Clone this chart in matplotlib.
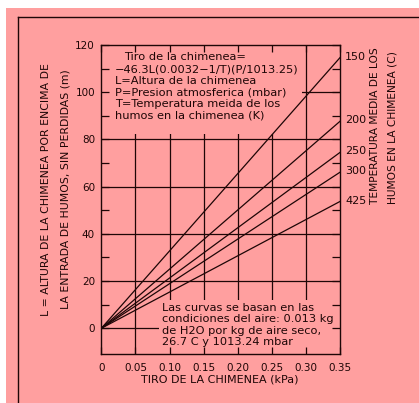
import matplotlib
matplotlib.use("Agg")
import matplotlib.pyplot as plt
import numpy as np
from matplotlib.lines import Line2D
from matplotlib.patches import Rectangle
from matplotlib.ticker import FixedLocator

# data: height L (m) reached at a draft of 0.35 kPa
temps = ["150", "200", "250", "300", "425"]
draft_end = 0.35
height_end = [114.8, 87.8, 74.6, 66.2, 53.8]

x_ticks = [0, 0.05, 0.10, 0.15, 0.20, 0.25, 0.30, 0.35]
x_ticklabels = ["0", "0.05", "0.10", "0.15", "0.20", "0.25", "0.30", "0.35"]
y_ticks = [0, 20, 40, 60, 80, 100, 120]
y_minor = [10, 30, 50, 70, 90, 110]
y_grid = [0, 20, 40, 60, 80, 100]

formula_lines = [
    "\u221246.3L(0.0032\u22121/T)(P/1013.25)",
    "L=Altura de la chimenea",
    "P=Presion atmosferica (mbar)",
    "T=Temperatura meida de los",
    "humos en la chimenea (K)",
]
note_lines = [
    "Las curvas se basan en las",
    "condiciones del aire: 0.013 kg",
    "de H2O por kg de aire seco,",
    "26.7 C y 1013.24 mbar",
]

PINK = "#ff9f9f"
INK = "#1e0606"
W, H = 419, 403


def fx(px):
    return px / W


def fy(py):
    return 1 - py / H


plt.rcParams["font.family"] = "DejaVu Sans"

fig = plt.figure(figsize=(W / 100, H / 100), dpi=100, facecolor="white")
fig.add_artist(Rectangle((fx(6), 0), 1, fy(8), transform=fig.transFigure,
                         facecolor=PINK, edgecolor="none", zorder=0))
fig.add_artist(Line2D([fx(17.5), fx(17.5)], [0, fy(16.5)], color=INK, lw=1.0))
fig.add_artist(Line2D([fx(17.5), 1], [fy(16.5), fy(16.5)], color=INK, lw=1.0))

ax = fig.add_axes([fx(101.3), fy(354.3), (340.3 - 101.3) / W, (354.3 - 45) / H])
ax.set_facecolor(PINK)
ax.set_xlim(0, 0.35)
ax.set_ylim(-11, 120)
ax.set_axisbelow(False)

# grid
for y in y_grid:
    ax.axhline(y, color=INK, lw=0.9, zorder=1)
for x in x_ticks[1:-1]:
    ax.axvline(x, color=INK, lw=0.9, zorder=1)

# pink masks behind the text blocks
ax.add_patch(Rectangle((0, 82.3), 0.294, 40, facecolor=PINK, edgecolor="none", zorder=2))
ax.add_patch(Rectangle((0.085, -12), 0.27, 24, facecolor=PINK, edgecolor="none", zorder=2))

# curves
for t, h in zip(temps, height_end):
    ax.plot([0, draft_end], [0, h], color=INK, lw=0.9, zorder=3)
    ax.annotate(t, xy=(draft_end, h), xytext=(3.5, 0.5), textcoords="offset points",
                ha="left", va="center", fontsize=8, color=INK, annotation_clip=False)

for s in ax.spines.values():
    s.set_color(INK)
    s.set_linewidth(1.0)

ax.set_xticks(x_ticks)
ax.set_xticklabels(x_ticklabels)
ax.set_yticks(y_ticks)
ax.yaxis.set_minor_locator(FixedLocator(y_minor))
ax.tick_params(axis="x", which="both", direction="in", top=True, bottom=True,
               length=5, width=0.9, color=INK, labelsize=7.5, labelcolor=INK, pad=6)
ax.tick_params(axis="y", which="both", direction="in", left=True, right=True,
               length=6, width=0.9, color=INK, labelsize=7.5, labelcolor=INK, pad=4.5)

# text blocks
fig.text(fx(124), fy(57), "Tiro de la chimenea=", fontsize=8.2, color=INK,
         ha="left", va="center", zorder=4)
for i, line in enumerate(formula_lines):
    fig.text(fx(115), fy(69 + 11.6 * i), line, fontsize=8.2, color=INK,
             ha="left", va="center", zorder=4)
for i, line in enumerate(note_lines):
    fig.text(fx(162), fy(307.7 + 11.4 * i), line, fontsize=8.2, color=INK,
             ha="left", va="center", zorder=4)

# axis titles
fig.text(fx(220), fy(380), "TIRO DE LA CHIMENEA (kPa)", fontsize=8, color=INK,
         ha="center", va="center")
fig.text(fx(46), fy(189.5), "L = ALTURA DE LA CHIMENEA POR ENCIMA DE", fontsize=7.8,
         color=INK, rotation=90, ha="center", va="center")
fig.text(fx(65), fy(189), "LA ENTRADA DE HUMOS, SIN PERDIDAS (m)", fontsize=7.8,
         color=INK, rotation=90, ha="center", va="center")
fig.text(fx(375), fy(204), "TEMPERATURA MEDIA DE LOS", fontsize=7.7, color=INK,
         rotation=90, ha="center", va="bottom")
fig.text(fx(392), fy(204), "HUMOS EN LA CHIMENEA (C)", fontsize=7.7, color=INK,
         rotation=90, ha="center", va="bottom")

fig.savefig("out.png", dpi=100, facecolor=fig.get_facecolor())
